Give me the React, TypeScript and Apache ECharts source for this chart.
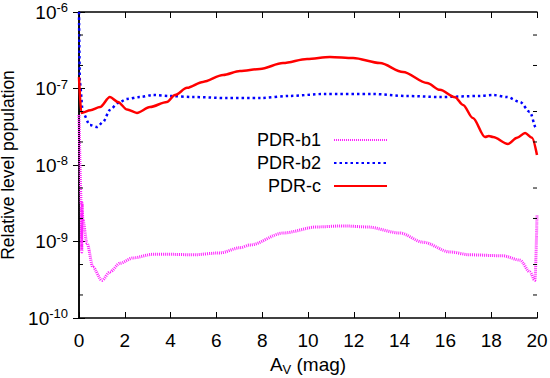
import React, { useEffect, useRef } from 'react';
import * as echarts from 'echarts';

const FONT = '"Liberation Sans", Arial, Helvetica, sans-serif';

// A_V (mag) positions and populations
const avB1 = [0, 0.1, 0.12, 0.13, 0.17, 0.35, 0.61, 1.0, 1.35, 1.79, 2.36, 3.23, 3.97, 4.98, 6.16, 7.03, 7.47, 8.91, 10.39, 11.53, 12.58, 14.02, 15.02, 16.2, 17.07, 18.52, 19.26, 19.69, 19.91, 20];
const popB1 = [4.5e-8, 3.0e-9, 7.3e-10, 3.2e-9, 1.9e-9, 9.5e-10, 4.6e-10, 3.1e-10, 4.0e-10, 5.2e-10, 6.1e-10, 6.8e-10, 6.8e-10, 6.7e-10, 7.1e-10, 8.3e-10, 9.0e-10, 1.29e-9, 1.55e-9, 1.6e-9, 1.55e-9, 1.29e-9, 9.8e-10, 7.3e-10, 6.7e-10, 6.5e-10, 5.7e-10, 4.0e-10, 3.1e-10, 2.2e-9];

const avB2 = [0, 0.04, 0.17, 0.48, 0.79, 1.05, 1.35, 1.7, 2.1, 2.66, 3.23, 3.97, 4.98, 6.46, 7.9, 9.2, 10.66, 12.84, 14.32, 15.76, 17.5, 18.08, 18.69, 19.26, 19.69, 19.96, 20];
const popB2 = [1e-6, 1.18e-7, 4.8e-8, 3.33e-8, 3.14e-8, 3.65e-8, 5.24e-8, 6.46e-8, 7.3e-8, 7.74e-8, 8.22e-8, 7.98e-8, 7.74e-8, 7.51e-8, 7.51e-8, 8.0e-8, 8.47e-8, 8.47e-8, 7.98e-8, 7.74e-8, 7.98e-8, 8.22e-8, 7.74e-8, 6.67e-8, 4.93e-8, 3.05e-8, 2.9e-8];

const avC = [0, 0.1, 0.5, 0.92, 1.35, 1.7, 2.1, 2.53, 3.1, 3.84, 4.19, 4.72, 5.41, 6.29, 7.03, 7.9, 8.91, 9.96, 10.96, 11.97, 13.14, 14.15, 15.2, 15.76, 16.42, 16.77, 17.2, 17.73, 17.9, 18.08, 18.73, 19.13, 19.48, 19.78, 20];
const popC = [1.41e-7, 4.8e-8, 5.2e-8, 5.73e-8, 7.74e-8, 6.67e-8, 5.3e-8, 4.8e-8, 5.73e-8, 6.67e-8, 8.22e-8, 1.02e-7, 1.22e-7, 1.5e-7, 1.69e-7, 1.8e-7, 2.15e-7, 2.43e-7, 2.58e-7, 2.5e-7, 2.15e-7, 1.64e-7, 1.18e-7, 9.6e-8, 7.7e-8, 6.1e-8, 4.1e-8, 2.32e-8, 2.4e-8, 2.32e-8, 1.88e-8, 2.27e-8, 2.62e-8, 2.27e-8, 1.35e-8];

const seriesNames = ['PDR-b1', 'PDR-b2', 'PDR-c'];
const minorTickValues = [2e-10, 5e-10, 2e-9, 5e-9, 2e-8, 5e-8, 2e-7, 5e-7];

const zip = (xs: number[], ys: number[]) => xs.map((x, i) => [x, ys[i]]);

export default function App() {
  const ref = useRef<HTMLDivElement>(null);
  useEffect(() => {
    const chart = echarts.init(ref.current!, null, { renderer: 'svg' });
    const tickStyle = { show: true, inside: true, length: 6, lineStyle: { color: '#000', width: 1 } };
    const axisLine = { show: true, lineStyle: { color: '#000', width: 1.5 } };
    const mkLegend = (name: string, top: number) => ({
      data: [name],
      right: 162,
      top,
      orient: 'vertical',
      align: 'right',
      itemWidth: 53,
      itemHeight: 20,
      padding: 0,
      selectedMode: false,
      itemStyle: { opacity: 0 },
      textStyle: { fontSize: 18, fontFamily: FONT, color: '#000', padding: [0, 8, 0, 0] },
    });
    chart.setOption({
      animation: false,
      backgroundColor: '#fff',
      grid: { left: 79, right: 13, top: 12, bottom: 60, outerBoundsMode: 'none', containLabel: false },
      legend: [mkLegend(seriesNames[0], 131), mkLegend(seriesNames[1], 154), mkLegend(seriesNames[2], 177)],
      xAxis: [
        {
          type: 'value', min: 0, max: 20, interval: 2, position: 'bottom',
          axisLine, axisTick: tickStyle, splitLine: { show: false },
          axisLabel: { fontSize: 19, fontFamily: FONT, color: '#000', margin: 13 },
          name: '{a|A}{v|V}{a| (mag)}',
          nameLocation: 'middle',
          nameGap: 32,
          nameTextStyle: {
            rich: {
              a: { fontSize: 19, fontFamily: FONT, color: '#000' },
              v: { fontSize: 13, fontFamily: FONT, color: '#000', padding: [10, 0, 0, 0] },
            },
          },
        },
        {
          type: 'value', min: 0, max: 20, interval: 2, position: 'top',
          axisLine, axisTick: tickStyle, splitLine: { show: false }, axisLabel: { show: false },
        },
      ],
      yAxis: [
        {
          type: 'log', logBase: 10, min: 1e-10, max: 1e-6, position: 'left',
          axisLine, axisTick: tickStyle, splitLine: { show: false },
          axisLabel: {
            margin: 11,
            formatter: (v: number) => `{b|10}{s|${Math.round(Math.log10(v))}}`,
            rich: {
              b: { fontSize: 19, lineHeight: 22, fontFamily: FONT, color: '#000' },
              s: { fontSize: 13, lineHeight: 13, verticalAlign: 'top', fontFamily: FONT, color: '#000' },
            },
          },
          name: 'Relative level population',
          nameLocation: 'middle',
          nameGap: 55,
          nameTextStyle: { fontSize: 17.5, lineHeight: 18, fontFamily: FONT, color: '#000' },
        },
        {
          type: 'log', logBase: 10, min: 1e-10, max: 1e-6, position: 'right',
          axisLine, axisTick: tickStyle, splitLine: { show: false }, axisLabel: { show: false },
        },
      ],
      series: [
        {
          type: 'line', name: seriesNames[0], data: zip(avB1, popB1), symbol: 'none', smooth: 0.3,
          smoothMonotone: 'x', z: 2,
          itemStyle: { color: '#ff00ff' },
          lineStyle: { color: '#ff22ff', width: 3, type: [1, 1], cap: 'butt' },
        },
        {
          type: 'line', name: seriesNames[1], data: zip(avB2, popB2), symbol: 'none', smooth: 0.3,
          smoothMonotone: 'x', z: 3,
          itemStyle: { color: '#0000ff' },
          lineStyle: { color: '#0000ff', width: 2.5, type: [2.5, 3], cap: 'butt' },
        },
        {
          type: 'line', name: seriesNames[2], data: zip(avC, popC), symbol: 'none', smooth: 0.3,
          smoothMonotone: 'x', z: 4,
          itemStyle: { color: '#ff0000' },
          lineStyle: { color: '#ff0000', width: 2.5 },
        },
        {
          type: 'custom', name: 'minorTicks', silent: true, z: 5,
          data: minorTickValues.map((v) => [0, v]),
          renderItem: (params: any, api: any) => {
            const p = api.coord([0, api.value(1)]);
            const cs = params.coordSys;
            const st = { stroke: '#000', lineWidth: 1 };
            return {
              type: 'group',
              children: [
                { type: 'line', shape: { x1: cs.x, y1: p[1], x2: cs.x + 4, y2: p[1] }, style: st },
                { type: 'line', shape: { x1: cs.x + cs.width - 4, y1: p[1], x2: cs.x + cs.width, y2: p[1] }, style: st },
              ],
            };
          },
        },
      ],
    });
    return () => chart.dispose();
  }, []);
  return <div ref={ref} style={{ position: 'fixed', left: 0, top: 0, width: 550, height: 378 }} />;
}
